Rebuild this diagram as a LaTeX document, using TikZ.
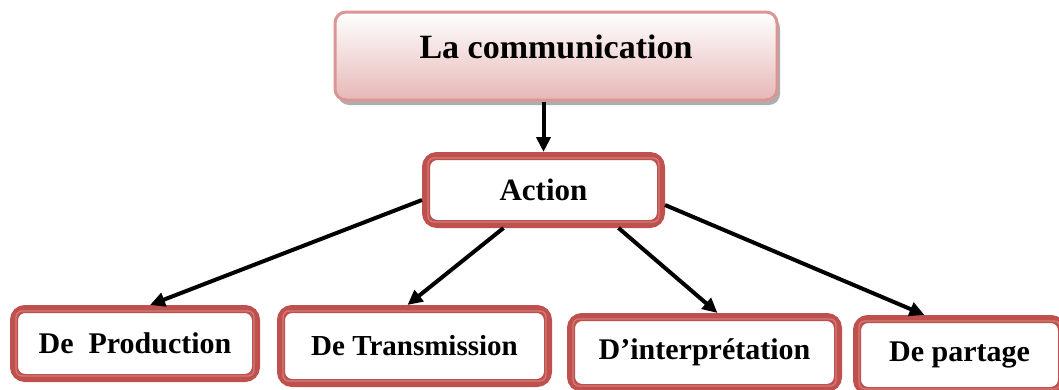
\documentclass[tikz,border=0pt]{standalone}
\usepackage{fontspec}
\setmainfont{Liberation Serif}
\usetikzlibrary{arrows.meta,shadows}
\definecolor{boxred}{HTML}{C0504D}
\definecolor{pinkline}{HTML}{D99694}
\definecolor{pinkfill}{HTML}{E6B8B7}
\tikzset{
  topbox/.style={rectangle, rounded corners=11pt, draw=pinkline, line width=3pt,
    top color=white, bottom color=pinkfill,
    drop shadow={shadow xshift=3pt, shadow yshift=-5pt, fill=black!45, opacity=0.7}},
  title/.style={font=\bfseries\fontsize{34}{40}\selectfont, inner sep=0pt},
  redbox/.style={rectangle, rounded corners=11pt, draw=boxred, line width=8pt, fill=white,
    font=\bfseries\fontsize{30}{36}\selectfont, inner sep=0pt},
  innerline/.style={draw=boxred!75, line width=1.3pt, rounded corners=6pt},
  arr/.style={draw=black, line width=4pt, -{Triangle[length=15pt,width=14pt]}},
}
\newcommand{\innerframe}[1]{%
  \draw[innerline] ([xshift=6pt,yshift=-6pt]#1.north west) rectangle ([xshift=-6pt,yshift=6pt]#1.south east);}
\begin{document}
\begin{tikzpicture}[x=1pt,y=-1pt]
  \useasboundingbox (0,0) rectangle (1059,389);

  % top concept
  \node[topbox, minimum width=442pt, minimum height=88pt] (top) at (556,56) {};
  \node[title] (toptext) at (556,47) {La communication};

  % middle concept
  \node[redbox, minimum width=235pt, minimum height=68pt, font=\bfseries\fontsize{31}{36}\selectfont] (act) at (543.5,190) {Action};
  \innerframe{act}

  % the four kinds of action
  \node[redbox, minimum width=242pt, minimum height=69pt] (prod) at (135,343.5) {De\ \ Production};
  \innerframe{prod}
  \node[redbox, minimum width=267pt, minimum height=74pt, font=\bfseries\fontsize{29}{34}\selectfont] (trans) at (414.5,346) {De Transmission};
  \innerframe{trans}
  \node[redbox, minimum width=267pt, minimum height=71pt] (interp) at (704.5,352.5) {D’interprétation};
  \innerframe{interp}
  \node[redbox, minimum width=205pt, minimum height=72pt] (part) at (959.5,355) {De partage};
  \innerframe{part}

  % connectors
  \draw[arr] (top.south -| act.north) -- (act.north);
  \draw[arr] ([yshift=-10pt]act.west) -- ([xshift=15pt]prod.north);
  \draw[arr] ([xshift=-40pt]act.south) -- ([xshift=-7pt]trans.north);
  \draw[arr] ([xshift=75pt]act.south) -- ([xshift=13pt]interp.north);
  \draw[arr] ([yshift=-15pt]act.east) -- ([xshift=-35pt]part.north);
\end{tikzpicture}
\end{document}
